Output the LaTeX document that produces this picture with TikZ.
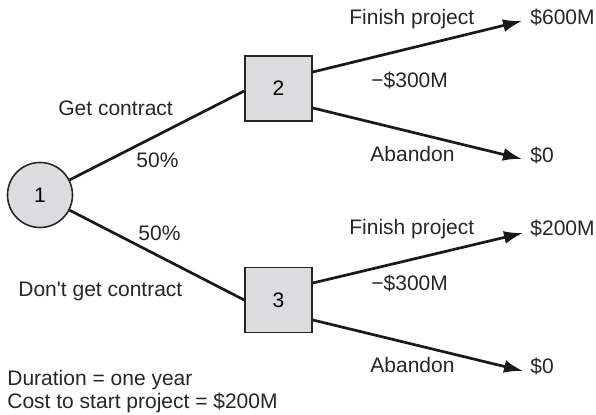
\documentclass[tikz,border=0pt]{standalone}
\usepackage{fontspec}
\setmainfont{Liberation Sans}
\usetikzlibrary{arrows.meta}
\definecolor{boxgray}{HTML}{DCDCDE}
\begin{document}
\begin{tikzpicture}[x=0.5pt,y=-0.5pt,
  every node/.style={font=\fontsize{10.5}{12}\selectfont},
  chance/.style={circle,draw=black!85,line width=0.8pt,fill=boxgray,minimum size=32.5pt,inner sep=0pt},
  decision/.style={rectangle,draw=black!85,line width=0.8pt,fill=boxgray,minimum width=33.5pt,minimum height=32.5pt,inner sep=0pt},
  branch/.style={line width=1.35pt,black!90},
  arr/.style={branch,-{Latex[length=9.5pt,width=6.5pt]}},
  lbl/.style={anchor=base west,inner sep=0pt,text=black!85}]
\useasboundingbox (0,0) rectangle (596,415);
\node[chance] (c1) at (40,195) {1};
\node[decision] (b2) at (278.5,88.5) {2};
\node[decision] (b3) at (278.5,300) {3};
\coordinate (t1) at (522,21);
\coordinate (t2) at (522,159);
\coordinate (t3) at (523,233);
\coordinate (t4) at (523,371);
\draw[branch] (c1) -- ([yshift=-1.25pt]b2.west);
\draw[branch] (c1) -- (b3.west);
\draw[arr] ([yshift=8.25pt]b2.east) -- (t1);
\draw[arr] ([yshift=-9.75pt]b2.east) -- (t2);
\draw[arr] ([yshift=8.5pt]b3.east) -- (t3);
\draw[arr] ([yshift=-10pt]b3.east) -- (t4);
\node[lbl] (v1) at (530,25) {\$600M};
\node[lbl] (v2) at (530,163) {\$0};
\node[lbl] (v3) at (530,236) {\$200M};
\node[lbl] (v4) at (530,374) {\$0};
\node[lbl] (f1) at (349,25) {Finish project};
\node[lbl] (m1) at (371,88) {−\$300M};
\node[lbl] (a1) at (370,162) {Abandon};
\node[lbl] (f2) at (349,235) {Finish project};
\node[lbl] (m2) at (371,291) {−\$300M};
\node[lbl] (a2) at (370,373) {Abandon};
\node[lbl] (g1) at (58,116) {Get contract};
\node[lbl] (p1) at (136,168) {50\%};
\node[lbl] (p2) at (138,241) {50\%};
\node[lbl] (g2) at (18,297) {Don\textquotesingle t get contract};
\node[lbl] (d1) at (7,386) {Duration = one year};
\node[lbl] (d2) at (7,409) {Cost to start project = \$200M};
\end{tikzpicture}
\end{document}
